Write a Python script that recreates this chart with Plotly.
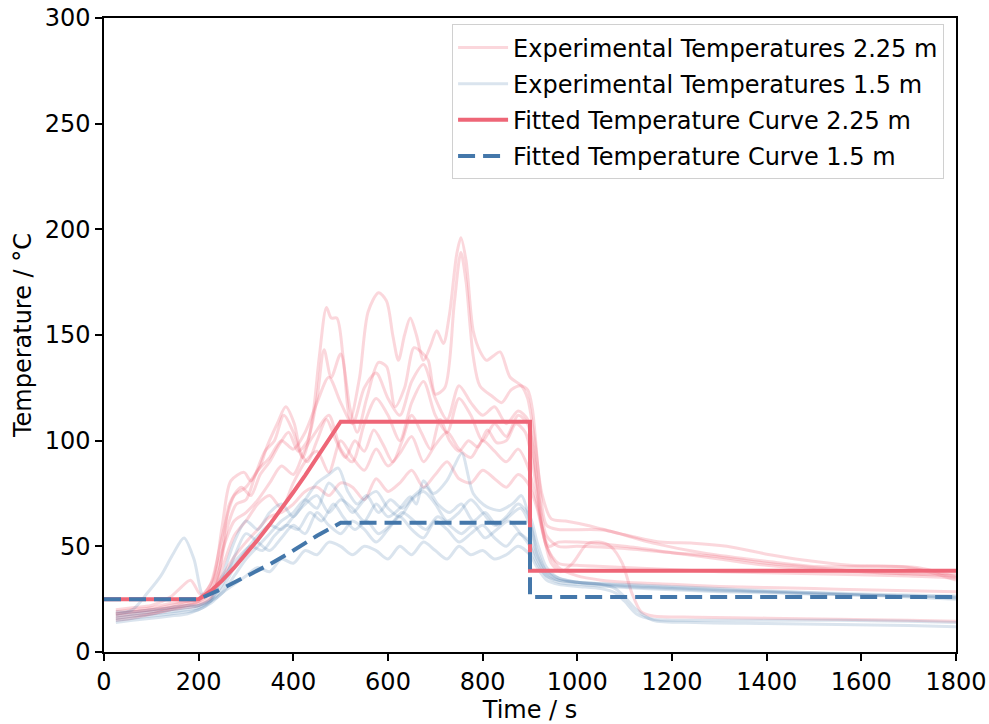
import plotly.graph_objects as go

# ---------------- data ----------------
# Fitted temperature curves
fit_t_225 = [0, 200, 225, 250, 275, 300, 325, 350, 375, 400, 425, 450, 475, 500, 900, 900, 1800]
fit_v_225 = [25, 25, 28.8, 33.9, 39.9, 46.3, 53.1, 60.3, 67.8, 75.6, 83.6, 91.9, 100.3, 109, 109, 38.5, 38.5]
fit_t_15 = [0, 200, 250, 300, 350, 400, 450, 500, 900, 900, 1800]
fit_v_15 = [25, 25, 30, 35.5, 41.5, 48, 55, 61.2, 61.2, 26, 26]

# Experimental temperatures at 2.25 m
r1_t = [25, 60, 100, 140, 175, 200, 225, 245, 262, 280, 300, 320, 340, 360, 380, 400, 420, 440, 455, 470, 480, 492, 505, 520, 540, 558, 580, 597, 610, 622, 635, 647, 660, 675, 690, 703, 717, 730, 745, 754, 765, 780, 795, 808, 822, 837, 858, 882, 895, 910, 925, 945, 975, 1020, 1090, 1175, 1245, 1316, 1407, 1477, 1576, 1717, 1800]
r1_v = [18, 19, 20, 21, 23, 24, 28, 40, 60, 70, 72, 84, 95, 100, 112, 104, 92, 110, 140, 163, 158, 158, 140, 110, 130, 161, 170, 166, 150, 138, 150, 158, 150, 138, 145, 152, 146, 160, 188, 196, 185, 152, 142, 138, 140, 142, 130, 126, 120, 100, 75, 63, 62, 60, 56, 52, 51.5, 50, 46, 43.5, 41, 40, 35.5]

r2_t = [25, 60, 100, 140, 175, 200, 225, 245, 265, 290, 310, 330, 350, 370, 390, 410, 430, 450, 465, 480, 500, 520, 535, 555, 580, 597, 615, 635, 655, 670, 685, 700, 720, 740, 754, 765, 780, 794, 820, 840, 860, 880, 895, 905, 920, 935, 960, 1055, 1160, 1266, 1407, 1506, 1700, 1800]
r2_v = [16, 17, 18, 20, 21, 22, 25, 40, 70, 78, 74, 84, 90, 98, 104, 95, 100, 120, 143, 130, 141, 115, 104, 120, 137, 135, 116, 125, 144, 142, 138, 122, 125, 165, 189, 175, 140, 126, 121, 118, 124, 126, 124, 115, 80, 60, 58, 57.7, 51.5, 46.8, 42.7, 40.4, 40, 34]

r3_t = [25, 60, 100, 140, 160, 183, 205, 230, 250, 268, 296, 310, 330, 344, 366, 384, 402, 416, 430, 450, 470, 490, 510, 530, 550, 570, 590, 610, 630, 650, 670, 690, 710, 730, 750, 770, 790, 810, 830, 850, 870, 890, 905, 925, 945, 965, 990, 1020, 1045, 1070, 1095, 1115, 1135, 1160, 1250, 1400, 1550, 1700, 1800]
r3_v = [20, 21, 22, 26, 30, 34, 27, 34, 60, 81, 85, 81, 88, 97, 108, 116, 108, 94, 90, 100, 110, 100, 92, 100, 95, 105, 98, 90, 100, 112, 104, 96, 110, 100, 95, 100, 97, 105, 99, 100, 108, 104, 90, 60, 42, 38, 42, 51, 52, 50, 42, 28, 19, 17, 16.5, 16, 15.5, 15, 14.5]

r4_t = [25, 60, 100, 140, 175, 200, 225, 250, 275, 300, 325, 350, 375, 400, 425, 450, 475, 500, 525, 550, 575, 600, 625, 650, 675, 700, 725, 750, 775, 800, 825, 850, 875, 895, 910, 925, 940, 960, 1000, 1100, 1200, 1300, 1400, 1500, 1600, 1700, 1800]
r4_v = [17, 18, 19, 21, 22, 24, 30, 48, 62, 66, 72, 80, 88, 84, 96, 105, 112, 96, 90, 108, 120, 112, 100, 118, 128, 112, 104, 120, 112, 100, 108, 102, 112, 108, 90, 60, 50, 52, 52, 50, 47, 44, 41, 39, 38, 37, 37]

r5_t = [25, 60, 100, 140, 175, 200, 225, 250, 275, 300, 325, 350, 375, 400, 425, 450, 475, 500, 525, 550, 575, 600, 625, 650, 675, 700, 725, 750, 775, 800, 825, 850, 875, 895, 915, 935, 960, 1000, 1050, 1100, 1200, 1300, 1400, 1500, 1600, 1700, 1800]
r5_v = [15, 16, 18, 20, 22, 23, 26, 40, 55, 62, 70, 74, 68, 80, 90, 95, 85, 100, 92, 86, 96, 88, 94, 102, 90, 98, 104, 96, 92, 100, 95, 90, 96, 88, 70, 50, 40, 36, 34, 33, 32, 31, 30.5, 30, 29.5, 29, 28.5]

r6_t = [25, 60, 100, 140, 175, 200, 225, 250, 275, 300, 325, 350, 375, 400, 425, 450, 475, 500, 525, 550, 575, 600, 625, 650, 675, 700, 725, 750, 775, 800, 825, 850, 875, 895, 915, 935, 960, 1000, 1100, 1300, 1500, 1700, 1800]
r6_v = [19, 20, 21, 23, 24, 25, 28, 36, 45, 52, 58, 64, 66, 70, 76, 78, 74, 80, 78, 72, 82, 76, 80, 86, 78, 84, 90, 82, 80, 86, 82, 78, 84, 80, 68, 50, 42, 41, 40, 38, 37, 36, 35]

r7_t = [25, 60, 100, 140, 175, 200, 225, 250, 275, 300, 325, 350, 375, 400, 425, 450, 475, 500, 525, 550, 575, 600, 625, 650, 675, 700, 725, 750, 775, 800, 825, 850, 875, 895, 915, 935, 960, 1000, 1100, 1200, 1300, 1400, 1500, 1600, 1700, 1800]
r7_v = [18, 19, 20, 22, 24, 25, 32, 55, 74, 78, 86, 92, 100, 96, 104, 118, 130, 118, 108, 125, 132, 120, 112, 128, 136, 120, 110, 126, 118, 112, 116, 108, 114, 110, 80, 55, 50, 50, 49, 47, 45, 42, 40, 38, 37, 36]

# Experimental temperatures at 1.5 m
b1_t = [25, 60, 92, 120, 145, 169, 190, 211, 235, 260, 285, 310, 335, 360, 385, 410, 435, 460, 485, 505, 530, 555, 580, 605, 630, 655, 680, 705, 730, 755, 780, 805, 830, 855, 880, 900, 915, 935, 960, 1000, 1050, 1080, 1100, 1125, 1160, 1250, 1400, 1550, 1700, 1800]
b1_v = [18, 20, 28, 36, 46, 54, 44, 26, 30, 38, 45, 50, 48, 55, 60, 58, 66, 62, 70, 64, 58, 62, 56, 60, 66, 62, 58, 64, 60, 56, 60, 54, 58, 62, 56, 50, 42, 36, 34, 33, 32, 30, 26, 20, 15, 14, 13.5, 13, 12.5, 12]

b2_t = [25, 60, 100, 140, 175, 200, 225, 250, 275, 300, 325, 350, 375, 400, 425, 450, 475, 500, 525, 550, 575, 600, 625, 647, 660, 675, 696, 724, 740, 756, 780, 808, 837, 865, 882, 900, 915, 935, 960, 1000, 1100, 1200, 1300, 1400, 1500, 1600, 1700, 1800]
b2_v = [16, 17, 18, 19, 20, 21, 24, 30, 40, 48, 55, 60, 58, 64, 70, 74, 66, 72, 68, 62, 70, 64, 68, 73.5, 70, 81, 75, 81, 88, 94, 75, 68.8, 67, 70.5, 74, 62, 48, 38, 35, 33, 32, 31, 30, 29, 28, 27, 26.5, 26]

b3_t = [25, 60, 100, 140, 175, 200, 225, 250, 275, 300, 325, 350, 375, 400, 425, 450, 475, 495, 515, 535, 555, 580, 605, 630, 655, 680, 705, 730, 755, 780, 805, 830, 855, 880, 900, 915, 935, 960, 1000, 1100, 1200, 1300, 1400, 1500, 1600, 1700, 1800]
b3_v = [15, 16, 17, 18, 19, 20, 24, 36, 52, 62, 58, 66, 70, 64, 72, 80, 84, 87, 76, 70, 74, 66, 72, 68, 74, 78, 70, 66, 70, 62, 66, 60, 64, 68, 60, 46, 38, 34, 33, 31.5, 30.5, 29.5, 28.5, 27.5, 27, 26.5, 25.5]

b4_t = [25, 60, 100, 140, 175, 200, 225, 250, 275, 300, 325, 350, 375, 400, 425, 450, 475, 500, 525, 550, 575, 600, 625, 650, 675, 700, 725, 750, 775, 800, 825, 850, 875, 900, 915, 935, 960, 1000, 1050, 1080, 1100, 1125, 1160, 1250, 1400, 1550, 1700, 1800]
b4_v = [14, 15, 16, 17, 18, 20, 23, 28, 32, 36, 40, 38, 44, 42, 48, 46, 52, 50, 46, 50, 48, 44, 50, 46, 52, 48, 44, 50, 46, 48, 44, 46, 50, 46, 40, 34, 32, 31, 30, 28, 24, 18, 15.5, 15, 15, 15, 14.5, 14]

b5_t = [25, 60, 100, 140, 175, 200, 225, 250, 275, 300, 325, 350, 375, 400, 425, 450, 475, 500, 525, 550, 575, 600, 625, 650, 675, 700, 725, 750, 775, 800, 825, 850, 875, 900, 915, 935, 960, 1000, 1100, 1200, 1300, 1400, 1500, 1600, 1700, 1800]
b5_v = [17, 18, 19, 20, 21, 22, 25, 32, 45, 56, 52, 48, 54, 60, 56, 66, 60, 56, 62, 58, 52, 58, 64, 58, 54, 62, 58, 52, 56, 60, 54, 50, 56, 52, 44, 36, 33, 32, 30.5, 29.5, 28.5, 28, 27.5, 27, 26, 25]

b6_t = [25, 60, 100, 140, 175, 200, 225, 250, 275, 300, 325, 350, 375, 400, 425, 450, 475, 500, 525, 550, 575, 600, 625, 650, 675, 700, 725, 750, 775, 800, 825, 850, 875, 900, 915, 935, 960, 1000, 1100, 1200, 1300, 1400, 1500, 1600, 1700, 1800]
b6_v = [19, 19, 20, 21, 22, 22, 24, 28, 36, 44, 50, 56, 62, 66, 72, 68, 80, 74, 66, 72, 76, 68, 64, 72, 76, 70, 62, 66, 72, 66, 60, 64, 70, 64, 52, 40, 35, 33, 31, 30, 29, 28.5, 28, 27.5, 27, 26.5]

red_series = [(r1_t, r1_v), (r2_t, r2_v), (r3_t, r3_v), (r4_t, r4_v), (r5_t, r5_v), (r6_t, r6_v), (r7_t, r7_v)]
blue_series = [(b1_t, b1_v), (b2_t, b2_v), (b3_t, b3_v), (b4_t, b4_v), (b5_t, b5_v), (b6_t, b6_v)]

x_ticks = [0, 200, 400, 600, 800, 1000, 1200, 1400, 1600, 1800]
y_ticks = [0, 50, 100, 150, 200, 250, 300]

RED = "#EE6677"
BLUE = "#4477AA"
RED_EXP = "rgba(238,102,119,0.26)"
BLUE_EXP = "rgba(68,119,170,0.20)"
FONT = "DejaVu Sans"
FS = 24

# ---------------- figure ----------------
fig = go.Figure()

for i, (t, v) in enumerate(red_series):
    fig.add_trace(go.Scatter(
        x=t, y=v, mode="lines", line=dict(color=RED_EXP, width=3, shape="spline", smoothing=0.8),
        name="Experimental Temperatures 2.25 m", legendgroup="r", showlegend=(i == 0)))

for i, (t, v) in enumerate(blue_series):
    fig.add_trace(go.Scatter(
        x=t, y=v, mode="lines", line=dict(color=BLUE_EXP, width=3, shape="spline", smoothing=0.8),
        name="Experimental Temperatures 1.5 m", legendgroup="b", showlegend=(i == 0)))

fig.add_trace(go.Scatter(
    x=fit_t_225, y=fit_v_225, mode="lines", line=dict(color=RED, width=4),
    name="Fitted Temperature Curve 2.25 m", legendgroup="fr"))
fig.add_trace(go.Scatter(
    x=fit_t_15, y=fit_v_15, mode="lines", line=dict(color=BLUE, width=4, dash="17px,8px"),
    name="Fitted Temperature Curve 1.5 m", legendgroup="fb"))

axis_common = dict(
    showgrid=False, zeroline=False, showline=True, linecolor="black", linewidth=1.5,
    mirror=True, ticks="outside", ticklen=7, tickwidth=1.5, tickcolor="black",
    tickfont=dict(family=FONT, size=FS, color="black"), automargin=False,
)

fig.update_layout(
    width=989, height=724,
    margin=dict(l=104, r=33, t=18, b=72),
    paper_bgcolor="white", plot_bgcolor="white",
    font=dict(family=FONT, size=FS, color="black"),
    xaxis=dict(range=[0, 1800], tickvals=x_ticks,
               title=dict(text="Time / s", font=dict(family=FONT, size=FS), standoff=6),
               **axis_common),
    yaxis=dict(range=[0, 300], tickvals=y_ticks,
               title=dict(text="Temperature / °C", font=dict(family=FONT, size=FS), standoff=6),
               **axis_common),
    legend=dict(x=0.986, y=0.99, xanchor="right", yanchor="top",
                bgcolor="rgba(255,255,255,0.8)", bordercolor="#d0d0d0", borderwidth=1,
                font=dict(family=FONT, size=FS, color="black"),
                tracegroupgap=2, itemwidth=50),
    showlegend=True,
)

fig.write_html("out.html")
